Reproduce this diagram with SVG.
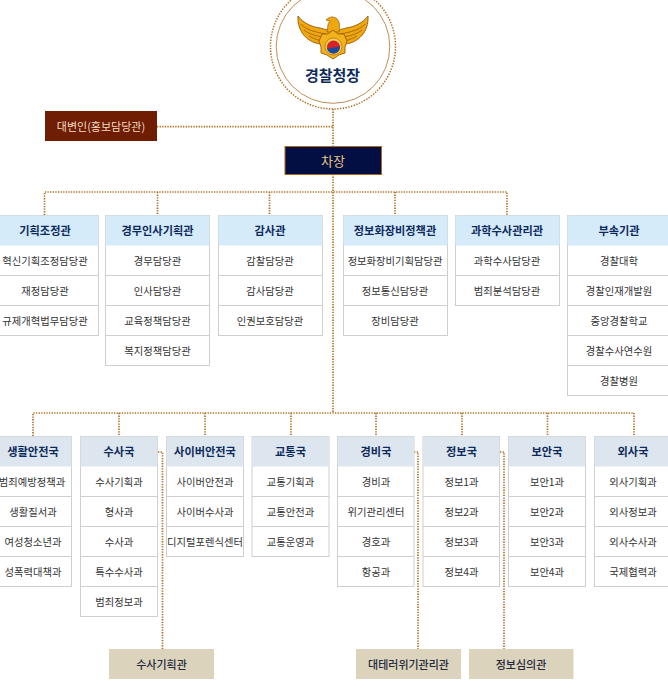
<svg xmlns="http://www.w3.org/2000/svg" width="668" height="693" viewBox="0 0 668 693">
<defs>
<g id="wing">
<path d="M298 16C303 23 312 27 320 28L327 30L333 33V52L321 44C308 43 297 32 298 16Z" fill="#eda80f" stroke="#9c5a08" stroke-width=".9"/>
<path d="M301 24C306 30 315 32 326 34M304 30C310 35 318 36 326 38M309 36C314 39 319 40 323 42" fill="none" stroke="#9c5a08" stroke-width=".8"/>
</g>
</defs>
<style>
text{font-family:"Noto Sans CJK KR","Liberation Sans",sans-serif;text-anchor:middle}
.dot{fill:none;stroke:#b0701f;stroke-width:1.700;stroke-dasharray:1.300 1.300}
.t{font-size:10.300px;fill:#333}
.h{font-size:11.200px;font-weight:700;fill:#0d2a5c}
.hb{fill:#d5ebfa}
.hg{fill:#dde6ee}
.b{fill:#fff;stroke:#cfcfcf}
.l{stroke:#cfcfcf}
.tan{fill:#dcd3bd}
.tl{font-size:11px;font-weight:500;fill:#1f2a3c}
</style>
<g id="connectors">
<path class="dot" d="M333 109V413M157 126.700H333M44.500 215V192H507V215M157.500 192V215M269.500 192V215M395 192V215M33 436V413H634V436M119 413V436M205 413V436M291 413V436M376 413V436M462 413V436M547.500 413V436M158 452H162.500V649M414 452H418V649M500 452H504V649"/>
</g>
<g id="chief">
<circle cx="333" cy="46.500" r="62.500" fill="#fff" stroke="#b0701f" stroke-width="1.500" stroke-dasharray="1.400 1.400"/>
<circle cx="333" cy="46.500" r="56.800" fill="#fff" stroke="#c08c55" stroke-width="1"/>
<use href="#wing"/>
<use href="#wing" transform="matrix(-1 0 0 1 666 0)"/>
<path d="M339 32C340 26 340 21 336 18C332 16 329 17 326 20L330 21C327 24 328 28 327 32Z" fill="#eda80f" stroke="#9c5a08" stroke-width=".7"/>
<path d="M333 30L338 34L344 34L347 41L345 47L345 53L339 55L333 59L327 55L321 53L321 47L319 41L322 34L328 34Z" fill="#f2b21a" stroke="#9c5a08" stroke-width=".9"/>
<circle cx="333.500" cy="46.500" r="8.500" fill="#f8cf55" stroke="#9c5a08" stroke-width=".6"/>
<circle cx="333.500" cy="47" r="6.500" fill="#d4242a"/>
<path d="M327 47.500C329 50 331 47 333.500 47.500C336 48 338 46 340 46.500C340 51 337 53.500 333.500 53.500C330 53.500 327 51 327 47.500Z" fill="#1d4a9c"/>
<text x="332.500" y="80.500" style="font-size:15px;font-weight:700;fill:#0d2a5c">경찰청장</text>
</g>
<g id="spokesperson"><rect x="45" y="111" width="112" height="30" fill="#6f1d03"/><text x="101" y="130.500" style="font-size:11px;fill:#f2dcc4">대변인(홍보담당관)</text></g>
<g id="deputy"><rect x="285" y="146.500" width="96.500" height="28" fill="#030f42" stroke="#a8661e"/><text x="333" y="165.500" style="font-size:13px;fill:#e6c883">차장</text></g>
<g id="n1"><rect class="b" x="-6" y="215.500" width="104.500" height="120"/><rect class="hb" x="-6" y="215.500" width="104.500" height="30"/><path class="l" d="M-6 275.500H98.500M-6 305.500H98.500"/><text class="h" x="45" y="234.500">기획조정관</text><text class="t" x="45" y="264.500">혁신기획조정담당관</text><text class="t" x="45" y="294.500">재정담당관</text><text class="t" x="45" y="324.500">규제개혁법무담당관</text></g>
<g id="n2"><rect class="b" x="105.500" y="215.500" width="104" height="150"/><rect class="hb" x="105.500" y="215.500" width="104" height="30"/><path class="l" d="M105.500 275.500H209.500M105.500 305.500H209.500M105.500 335.500H209.500"/><text class="h" x="157.500" y="234.500">경무인사기획관</text><text class="t" x="157.500" y="264.500">경무담당관</text><text class="t" x="157.500" y="294.500">인사담당관</text><text class="t" x="157.500" y="324.500">교육정책담당관</text><text class="t" x="157.500" y="354.500">복지정책담당관</text></g>
<g id="n3"><rect class="b" x="218.500" y="215.500" width="104" height="120"/><rect class="hb" x="218.500" y="215.500" width="104" height="30"/><path class="l" d="M218.500 275.500H322.500M218.500 305.500H322.500"/><text class="h" x="270" y="234.500">감사관</text><text class="t" x="270" y="264.500">감찰담당관</text><text class="t" x="270" y="294.500">감사담당관</text><text class="t" x="270" y="324.500">인권보호담당관</text></g>
<g id="n4"><rect class="b" x="343.500" y="215.500" width="104" height="120"/><rect class="hb" x="343.500" y="215.500" width="104" height="30"/><path class="l" d="M343.500 275.500H447.500M343.500 305.500H447.500"/><text class="h" x="395" y="234.500">정보화장비정책관</text><text class="t" x="395" y="264.500">정보화장비기획담당관</text><text class="t" x="395" y="294.500">정보통신담당관</text><text class="t" x="395" y="324.500">장비담당관</text></g>
<g id="n5"><rect class="b" x="455.500" y="215.500" width="104" height="90"/><rect class="hb" x="455.500" y="215.500" width="104" height="30"/><path class="l" d="M455.500 275.500H559.500"/><text class="h" x="507" y="234.500">과학수사관리관</text><text class="t" x="507" y="264.500">과학수사담당관</text><text class="t" x="507" y="294.500">범죄분석담당관</text></g>
<g id="n6"><rect class="b" x="567.500" y="215.500" width="104" height="180"/><rect class="hb" x="567.500" y="215.500" width="104" height="30"/><path class="l" d="M567.500 275.500H671.500M567.500 305.500H671.500M567.500 335.500H671.500M567.500 365.500H671.500"/><text class="h" x="619" y="234.500">부속기관</text><text class="t" x="619" y="264.500">경찰대학</text><text class="t" x="619" y="294.500">경찰인재개발원</text><text class="t" x="619" y="324.500">중앙경찰학교</text><text class="t" x="619" y="354.500">경찰수사연수원</text><text class="t" x="619" y="384.500">경찰병원</text></g>
<g id="m1"><rect class="b" x="-6" y="436.500" width="77.500" height="150"/><rect class="hg" x="-6" y="436.500" width="77.500" height="30"/><path class="l" d="M-6 496.500H71.500M-6 526.500H71.500M-6 556.500H71.500"/><text class="h" x="33" y="455.500">생활안전국</text><text class="t" x="32" y="485.500">범죄예방정책과</text><text class="t" x="33" y="515.500">생활질서과</text><text class="t" x="33" y="545.500">여성청소년과</text><text class="t" x="33" y="575.500">성폭력대책과</text></g>
<g id="m2"><rect class="b" x="80.500" y="436.500" width="77" height="180"/><rect class="hg" x="80.500" y="436.500" width="77" height="30"/><path class="l" d="M80.500 496.500H157.500M80.500 526.500H157.500M80.500 556.500H157.500M80.500 586.500H157.500"/><text class="h" x="119" y="455.500">수사국</text><text class="t" x="119" y="485.500">수사기획과</text><text class="t" x="119" y="515.500">형사과</text><text class="t" x="119" y="545.500">수사과</text><text class="t" x="119" y="575.500">특수수사과</text><text class="t" x="119" y="605.500">범죄정보과</text></g>
<g id="m3"><rect class="b" x="166.500" y="436.500" width="77" height="120"/><rect class="hg" x="166.500" y="436.500" width="77" height="30"/><path class="l" d="M166.500 496.500H243.500M166.500 526.500H243.500"/><text class="h" x="205" y="455.500">사이버안전국</text><text class="t" x="205" y="485.500">사이버안전과</text><text class="t" x="205" y="515.500">사이버수사과</text><text class="t" x="205" y="545.500">디지털포렌식센터</text></g>
<g id="m4"><rect class="b" x="252" y="436.500" width="77" height="120"/><rect class="hg" x="252" y="436.500" width="77" height="30"/><path class="l" d="M252 496.500H329M252 526.500H329"/><text class="h" x="290.500" y="455.500">교통국</text><text class="t" x="290.500" y="485.500">교통기획과</text><text class="t" x="290.500" y="515.500">교통안전과</text><text class="t" x="290.500" y="545.500">교통운영과</text></g>
<g id="m5"><rect class="b" x="337.500" y="436.500" width="76.500" height="150"/><rect class="hg" x="337.500" y="436.500" width="76.500" height="30"/><path class="l" d="M337.500 496.500H414M337.500 526.500H414M337.500 556.500H414"/><text class="h" x="376" y="455.500">경비국</text><text class="t" x="376" y="485.500">경비과</text><text class="t" x="376" y="515.500">위기관리센터</text><text class="t" x="376" y="545.500">경호과</text><text class="t" x="376" y="575.500">항공과</text></g>
<g id="m6"><rect class="b" x="423" y="436.500" width="76.500" height="150"/><rect class="hg" x="423" y="436.500" width="76.500" height="30"/><path class="l" d="M423 496.500H499.500M423 526.500H499.500M423 556.500H499.500"/><text class="h" x="461.500" y="455.500">정보국</text><text class="t" x="461.500" y="485.500">정보1과</text><text class="t" x="461.500" y="515.500">정보2과</text><text class="t" x="461.500" y="545.500">정보3과</text><text class="t" x="461.500" y="575.500">정보4과</text></g>
<g id="m7"><rect class="b" x="508.500" y="436.500" width="77" height="150"/><rect class="hg" x="508.500" y="436.500" width="77" height="30"/><path class="l" d="M508.500 496.500H585.500M508.500 526.500H585.500M508.500 556.500H585.500"/><text class="h" x="547" y="455.500">보안국</text><text class="t" x="547" y="485.500">보안1과</text><text class="t" x="547" y="515.500">보안2과</text><text class="t" x="547" y="545.500">보안3과</text><text class="t" x="547" y="575.500">보안4과</text></g>
<g id="m8"><rect class="b" x="594.500" y="436.500" width="77" height="150"/><rect class="hg" x="594.500" y="436.500" width="77" height="30"/><path class="l" d="M594.500 496.500H671.500M594.500 526.500H671.500M594.500 556.500H671.500"/><text class="h" x="633" y="455.500">외사국</text><text class="t" x="633" y="485.500">외사기획과</text><text class="t" x="633" y="515.500">외사정보과</text><text class="t" x="633" y="545.500">외사수사과</text><text class="t" x="633" y="575.500">국제협력과</text></g>
<g id="a1"><rect class="tan" x="109" y="649" width="105" height="30"/><text class="tl" x="161.500" y="668.500">수사기획관</text></g>
<g id="a2"><rect class="tan" x="356" y="649" width="105" height="30"/><text class="tl" x="408.500" y="668.500">대테러위기관리관</text></g>
<g id="a3"><rect class="tan" x="469" y="649" width="104.500" height="30"/><text class="tl" x="521" y="668.500">정보심의관</text></g>
</svg>
